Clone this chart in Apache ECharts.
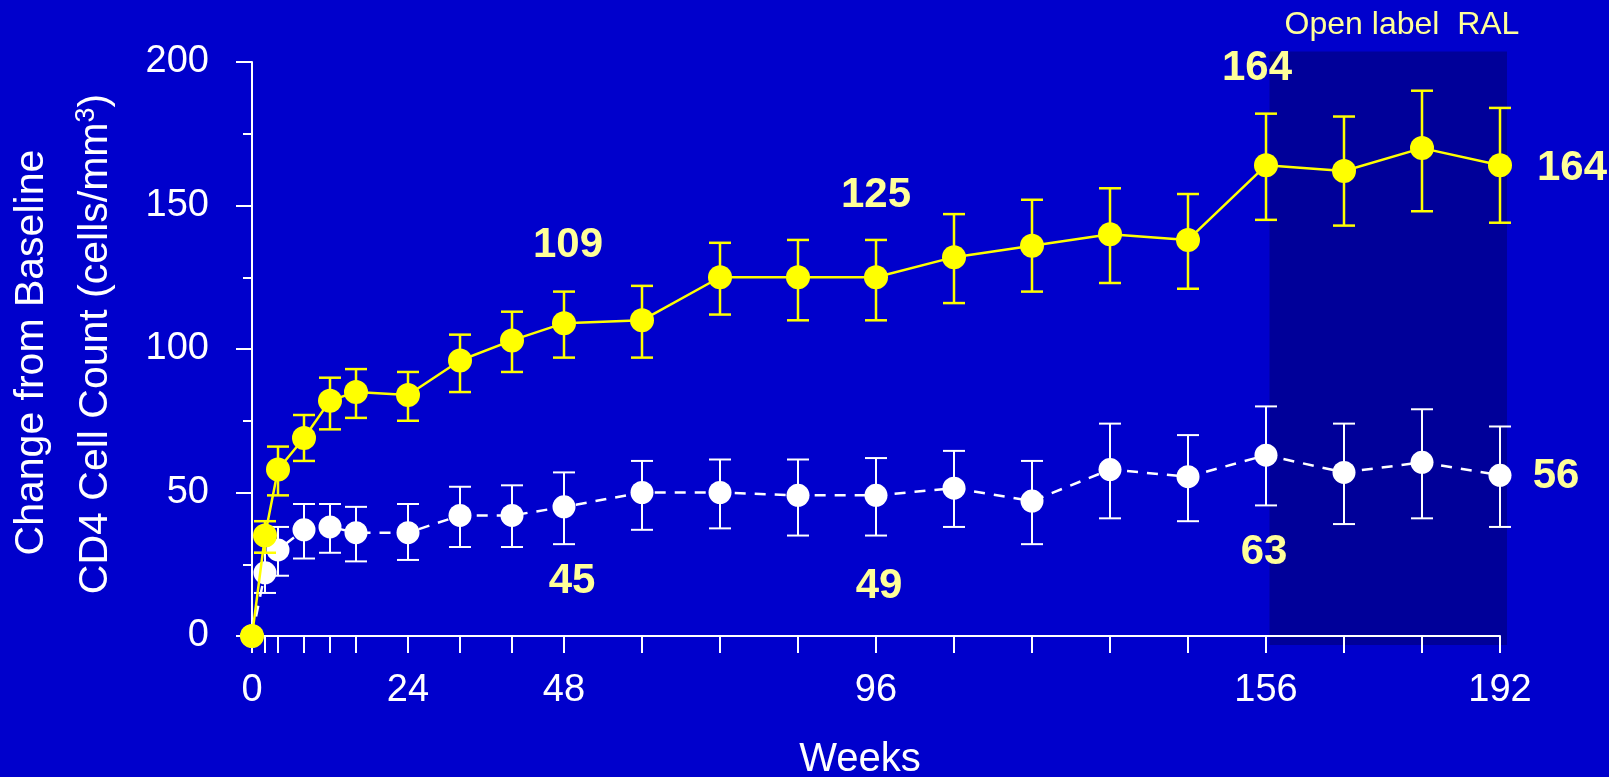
<!DOCTYPE html>
<html>
<head>
<meta charset="utf-8">
<script src="https://cdn.jsdelivr.net/npm/echarts@6/dist/echarts.min.js"></script>
<style>
  html, body { margin: 0; padding: 0; background: #0000CC; }
  #chart { width: 1609px; height: 777px; }
</style>
</head>
<body>
<div id="chart"></div>
<script>
// Visit weeks and the labelled weeks on the x axis
const weeks = [0, 2, 4, 8, 12, 16, 24, 32, 40, 48, 60, 72, 84, 96, 108, 120, 132, 144, 156, 168, 180, 192];
const weekLabels = [0, 24, 48, 96, 156, 192];

// Raltegravir arm: mean change in CD4 count with error-bar ends
const ralMean  = [0, 35, 58, 69, 82, 85, 84, 96, 103, 109, 110, 125, 125, 125, 132, 136, 140, 138, 164, 162, 170, 164];
const ralUpper = [null, 40, 66, 77, 90, 93, 92, 105, 113, 120, 122, 137, 138, 138, 147, 152, 156, 154, 182, 181, 190, 184];
const ralLower = [null, 29, 49, 61, 72, 76, 75, 85, 92, 97, 97, 112, 110, 110, 116, 120, 123, 121, 145, 143, 148, 144];

// Placebo arm
const placeboMean  = [0, 22, 30, 37, 38, 36, 36, 42, 42, 45, 50, 50, 49, 49, 51.5, 47, 58, 55.5, 63, 57, 60.5, 56];
const placeboUpper = [null, 29, 38, 46, 46, 45, 46, 52, 52.5, 57, 61, 61.5, 61.5, 62, 64.5, 61, 74, 70, 80, 74, 79, 73];
const placeboLower = [null, 15, 21, 27, 29, 26, 26.5, 31, 31, 32, 37, 37.5, 35, 35, 38, 32, 41, 40, 45.5, 39, 41, 38];

// Weeks whose values are printed next to the points
const ralLabelWeeks = [48, 96, 156, 192];
const placeboLabelWeeks = [48, 96, 156, 192];

// Open-label extension period (weeks)
const openLabelPeriod = [156, 192];

const FONT = "'Liberation Sans', Arial, Helvetica, sans-serif";
const Y_MIN = 0, Y_MAX = 200;

// Label placement relative to the point centre [dx, dy]
const ralLabelOffset = { 48: [4, -78], 96: [0, -82], 156: [-9, -97], 192: [72, 3] };
const placeboLabelOffset = { 48: [8, 75], 96: [3, 91], 156: [-2, 97], 192: [56, 1] };

function lineData(mean, labelWeeks, offsets) {
  return weeks.map((w, i) => {
    const item = { value: [w, mean[i]] };
    if (labelWeeks.indexOf(w) >= 0) {
      item.label = { show: true, position: 'inside', offset: offsets[w] };
    }
    return item;
  });
}

function errorBars(lower, upper, color, width, z) {
  const data = [];
  weeks.forEach((w, i) => {
    if (lower[i] != null && upper[i] != null) data.push([w, lower[i], upper[i]]);
  });
  return {
    type: 'custom',
    z: z,
    silent: true,
    clip: false,
    data: data,
    encode: { x: 0, y: [1, 2] },
    renderItem: function (params, api) {
      const lo = api.coord([api.value(0), api.value(1)]);
      const hi = api.coord([api.value(0), api.value(2)]);
      const half = 11;
      const style = { stroke: color, lineWidth: width };
      return {
        type: 'group',
        children: [
          { type: 'line', shape: { x1: lo[0], y1: lo[1], x2: hi[0], y2: hi[1] }, style: style },
          { type: 'line', shape: { x1: lo[0] - half, y1: lo[1], x2: lo[0] + half, y2: lo[1] }, style: style },
          { type: 'line', shape: { x1: hi[0] - half, y1: hi[1], x2: hi[0] + half, y2: hi[1] }, style: style }
        ]
      };
    }
  };
}

const valueLabel = {
  show: false,
  color: '#FFFF99',
  fontSize: 42,
  fontWeight: 'bold',
  fontFamily: FONT,
  formatter: function (p) { return String(p.value[1]); }
};

const chart = echarts.init(document.getElementById('chart'));

chart.setOption({
  backgroundColor: '#0000CC',
  animation: false,
  grid: { left: 252, right: 109, top: 62, bottom: 141, containLabel: false },
  xAxis: {
    type: 'value',
    min: 0,
    max: 192,
    splitLine: { show: false },
    axisLine: { show: true, onZero: false, lineStyle: { color: '#FFFFFF', width: 2 } },
    axisTick: { show: true, length: 17, customValues: weeks, lineStyle: { color: '#FFFFFF', width: 2 } },
    axisLabel: { customValues: weekLabels, color: '#FFFFFF', fontSize: 38, fontFamily: FONT, margin: 36 }
  },
  yAxis: {
    type: 'value',
    min: Y_MIN,
    max: Y_MAX,
    interval: 50,
    splitLine: { show: false },
    axisLine: { show: true, lineStyle: { color: '#FFFFFF', width: 2 } },
    axisTick: { show: true, length: 16, lineStyle: { color: '#FFFFFF', width: 2 } },
    minorTick: { show: true, splitNumber: 2, length: 9, lineStyle: { color: '#FFFFFF', width: 2 } },
    axisLabel: { color: '#FFFFFF', fontSize: 38, fontFamily: FONT, margin: 43, verticalAlign: 'middle', padding: [14, 0, 0, 0] }
  },
  graphic: [
    {
      type: 'text', x: 31.5, y: 352.6, rotation: Math.PI / 2,
      style: { text: 'Change from Baseline', fill: '#FFFFFF', font: '41px ' + FONT,
               align: 'center', verticalAlign: 'middle', textAlign: 'center', textVerticalAlign: 'middle' }
    },
    {
      type: 'text', x: 95.5, y: 344, rotation: Math.PI / 2,
      style: {
        text: '{t|CD4 Cell Count (cells/mm}{s|3}{t|)}',
        fill: '#FFFFFF',
        font: '41px ' + FONT,
        align: 'center', verticalAlign: 'middle', textAlign: 'center', textVerticalAlign: 'middle',
        rich: {
          t: { fontSize: 41, fontFamily: FONT, color: '#FFFFFF', lineHeight: 44 },
          s: { fontSize: 27, fontFamily: FONT, color: '#FFFFFF', lineHeight: 27, verticalAlign: 'top' }
        }
      }
    },
    {
      type: 'text', x: 1402, y: 25,
      style: { text: 'Open label  RAL', fill: '#FFFF99', font: '32px ' + FONT,
               align: 'center', verticalAlign: 'middle', textAlign: 'center', textVerticalAlign: 'middle' }
    },
    {
      type: 'text', x: 860, y: 759.5,
      style: { text: 'Weeks', fill: '#FFFFFF', font: '40px ' + FONT,
               align: 'center', verticalAlign: 'middle', textAlign: 'center', textVerticalAlign: 'middle' }
    }
  ],
  series: [
    // Shaded open-label period, slightly larger than the plotting area
    {
      type: 'custom',
      z: -1,
      silent: true,
      clip: false,
      data: [openLabelPeriod],
      encode: { x: [0, 1] },
      renderItem: function (params, api) {
        const tl = api.coord([api.value(0), Y_MAX]);
        const br = api.coord([api.value(1), Y_MIN]);
        return {
          type: 'rect',
          shape: { x: tl[0] + 3.5, y: tl[1] - 10.5, width: br[0] - tl[0] + 3.5, height: br[1] - tl[1] + 19.5 },
          style: { fill: '#000099' }
        };
      }
    },
    errorBars(placeboLower, placeboUpper, '#FFFFFF', 2, 3),
    {
      type: 'line',
      z: 4,
      data: lineData(placeboMean, placeboLabelWeeks, placeboLabelOffset),
      symbol: 'circle',
      symbolSize: 23,
      itemStyle: { color: '#FFFFFF' },
      lineStyle: { color: '#FFFFFF', width: 2.5, type: [11, 9] },
      label: valueLabel
    },
    errorBars(ralLower, ralUpper, '#FFFF00', 2.5, 5),
    {
      type: 'line',
      z: 6,
      data: lineData(ralMean, ralLabelWeeks, ralLabelOffset),
      symbol: 'circle',
      symbolSize: 24,
      itemStyle: { color: '#FFFF00' },
      lineStyle: { color: '#FFFF00', width: 2.5 },
      label: valueLabel
    }
  ]
});
</script>
</body>
</html>
